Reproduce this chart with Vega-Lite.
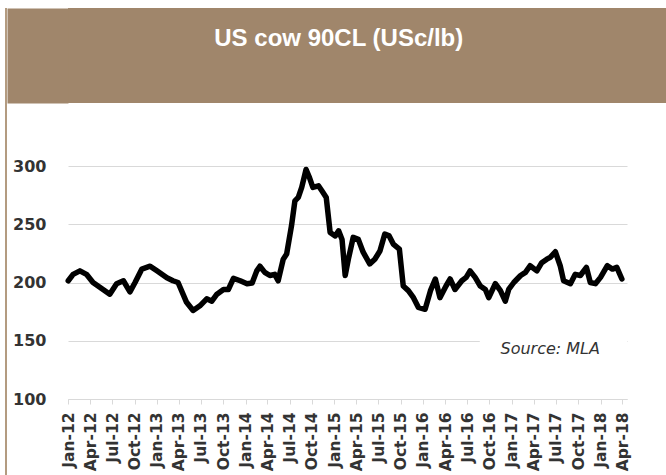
{
  "$schema": "https://vega.github.io/schema/vega-lite/v6.json",
  "background": "white",
  "padding": {"left": 5, "top": 8, "right": 0, "bottom": 0},
  "config": {
    "view": {"stroke": null},
    "font": "DejaVu Sans",
    "axisX": {
      "domainColor": "#d9d9d9", "tickColor": "#d9d9d9", "tickSize": 5, "grid": false,
      "labelAngle": -90, "labelFont": "DejaVu Sans", "labelFontSize": 15.5, "labelFontWeight": "bold", "labelColor": "#333333",
      "labelPadding": 8, "labelOverlap": false, "labelFlush": false
    },
    "axisY": {
      "domain": false, "ticks": false, "gridColor": "#d9d9d9", "gridWidth": 1,
      "labelFont": "DejaVu Sans", "labelFontSize": 16, "labelFontWeight": "bold", "labelColor": "#333333",
      "labelPadding": 22
    }
  },
  "spacing": 0,
  "hconcat": [
    {
      "width": 2, "height": 467,
      "view": {"fill": "#b39b80", "stroke": null},
      "data": {"values": [{}]},
      "mark": {"type": "text"},
      "encoding": {"text": {"value": ""}}
    },
    {
      "spacing": 55,
      "vconcat": [
        {
          "width": 598, "height": 95,
          "view": {"fill": "#a0866b", "stroke": null},
          "title": {"text": "US cow 90CL (USc/lb)", "color": "white", "font": "Liberation Sans", "fontSize": 24, "fontWeight": "bold", "anchor": "middle", "frame": "bounds", "offset": -62, "dx": -13, "baseline": "alphabetic"},
          "data": {"values": [{}]},
          "mark": {"type": "text"},
          "encoding": {
            "text": {"value": ""},
            "y": {"datum": 0.5, "type": "quantitative", "scale": {"domain": [0, 1]},
                  "axis": {"title": null, "labels": false, "ticks": false, "grid": false, "domain": true, "domainWidth": 61, "domainColor": "#a0866b", "domainCap": "butt", "offset": 30.5, "minExtent": 0, "maxExtent": 200}}
          }
        },
        {
          "width": 559, "height": 233,
          "data": {"values": [
            {"d": "2012-01-02", "v": 201.5}, {"d": "2012-01-22", "v": 207}, {"d": "2012-02-19", "v": 210},
            {"d": "2012-03-17", "v": 207}, {"d": "2012-04-13", "v": 200}, {"d": "2012-05-11", "v": 196},
            {"d": "2012-06-21", "v": 190}, {"d": "2012-07-19", "v": 199}, {"d": "2012-08-16", "v": 201.5},
            {"d": "2012-09-12", "v": 192}, {"d": "2012-10-03", "v": 200}, {"d": "2012-10-31", "v": 211.5},
            {"d": "2012-12-04", "v": 214}, {"d": "2013-01-01", "v": 210}, {"d": "2013-02-11", "v": 204},
            {"d": "2013-03-08", "v": 201.5}, {"d": "2013-03-29", "v": 200}, {"d": "2013-05-03", "v": 183},
            {"d": "2013-05-30", "v": 176}, {"d": "2013-06-27", "v": 180}, {"d": "2013-07-25", "v": 186},
            {"d": "2013-08-15", "v": 184}, {"d": "2013-09-05", "v": 190}, {"d": "2013-10-02", "v": 194},
            {"d": "2013-10-22", "v": 194}, {"d": "2013-11-12", "v": 203.5}, {"d": "2013-12-10", "v": 201.5},
            {"d": "2014-01-07", "v": 199}, {"d": "2014-01-28", "v": 199.5}, {"d": "2014-02-16", "v": 210},
            {"d": "2014-03-01", "v": 214}, {"d": "2014-03-21", "v": 208.7}, {"d": "2014-04-11", "v": 206},
            {"d": "2014-05-01", "v": 207}, {"d": "2014-05-15", "v": 201.5}, {"d": "2014-06-05", "v": 220},
            {"d": "2014-06-19", "v": 224.4}, {"d": "2014-07-09", "v": 248.7}, {"d": "2014-07-23", "v": 270},
            {"d": "2014-08-06", "v": 273}, {"d": "2014-08-20", "v": 281.6}, {"d": "2014-09-07", "v": 297},
            {"d": "2014-09-21", "v": 290}, {"d": "2014-10-05", "v": 281.6}, {"d": "2014-10-28", "v": 283},
            {"d": "2014-11-11", "v": 278.7}, {"d": "2014-11-29", "v": 273}, {"d": "2014-12-15", "v": 243},
            {"d": "2015-01-05", "v": 240}, {"d": "2015-01-19", "v": 244.4}, {"d": "2015-02-02", "v": 237},
            {"d": "2015-02-15", "v": 206}, {"d": "2015-02-28", "v": 220}, {"d": "2015-03-20", "v": 238.7},
            {"d": "2015-04-10", "v": 237}, {"d": "2015-04-30", "v": 226}, {"d": "2015-05-27", "v": 216},
            {"d": "2015-06-17", "v": 220}, {"d": "2015-07-08", "v": 227}, {"d": "2015-07-28", "v": 241.6},
            {"d": "2015-08-15", "v": 240}, {"d": "2015-09-01", "v": 233}, {"d": "2015-09-26", "v": 228.7},
            {"d": "2015-10-12", "v": 197}, {"d": "2015-11-02", "v": 193}, {"d": "2015-11-23", "v": 187},
            {"d": "2015-12-13", "v": 178.7}, {"d": "2016-01-10", "v": 177}, {"d": "2016-02-01", "v": 193},
            {"d": "2016-02-21", "v": 203}, {"d": "2016-03-11", "v": 187}, {"d": "2016-04-05", "v": 197},
            {"d": "2016-04-22", "v": 203}, {"d": "2016-05-12", "v": 194}, {"d": "2016-06-09", "v": 201.5},
            {"d": "2016-06-27", "v": 204.4}, {"d": "2016-07-13", "v": 210}, {"d": "2016-08-03", "v": 204.4},
            {"d": "2016-08-24", "v": 197}, {"d": "2016-09-14", "v": 194}, {"d": "2016-09-28", "v": 187},
            {"d": "2016-10-25", "v": 199}, {"d": "2016-11-15", "v": 193}, {"d": "2016-12-05", "v": 184},
            {"d": "2016-12-19", "v": 194}, {"d": "2017-01-09", "v": 200}, {"d": "2017-02-06", "v": 206},
            {"d": "2017-02-26", "v": 208.7}, {"d": "2017-03-17", "v": 214.4}, {"d": "2017-04-14", "v": 210},
            {"d": "2017-05-04", "v": 217}, {"d": "2017-05-25", "v": 220}, {"d": "2017-06-08", "v": 221.6},
            {"d": "2017-06-29", "v": 226.4}, {"d": "2017-07-19", "v": 214.4}, {"d": "2017-08-02", "v": 201.5},
            {"d": "2017-08-30", "v": 199}, {"d": "2017-09-19", "v": 207}, {"d": "2017-10-10", "v": 206},
            {"d": "2017-11-04", "v": 213}, {"d": "2017-11-20", "v": 200}, {"d": "2017-12-11", "v": 199},
            {"d": "2018-01-01", "v": 204.4}, {"d": "2018-01-29", "v": 214.4}, {"d": "2018-02-19", "v": 211.5},
            {"d": "2018-03-09", "v": 213}, {"d": "2018-03-30", "v": 203}
          ]},
          "layer": [
            {
              "mark": {"type": "line", "color": "black", "strokeWidth": 5.5, "strokeJoin": "round", "strokeCap": "round"},
              "encoding": {
                "x": {
                  "field": "d", "type": "temporal", "title": null,
                  "scale": {"type": "utc", "nice": false, "domain": [{"year": 2012, "month": 1, "date": 1, "utc": true}, {"year": 2018, "month": 4, "date": 20, "utc": true}]},
                  "axis": {"format": "%b-%y", "tickCount": {"interval": "month", "step": 3}}
                },
                "y": {
                  "field": "v", "type": "quantitative", "title": null,
                  "scale": {"domain": [100, 300], "nice": false, "zero": false},
                  "axis": {"values": [100, 150, 200, 250, 300], "minExtent": 61}
                }
              }
            },
            {
              "data": {"values": [{}]},
              "mark": {"type": "rect", "color": "white"},
              "encoding": {
                "x": {"datum": {"year": 2016, "month": 8, "date": 22, "utc": true}, "type": "temporal", "title": null},
                "x2": {"datum": {"year": 2018, "month": 4, "date": 20, "utc": true}},
                "y": {"datum": 146, "type": "quantitative", "title": null},
                "y2": {"datum": 154}
              }
            },
            {
              "data": {"values": [{}]},
              "mark": {"type": "text", "text": "Source: MLA", "font": "DejaVu Sans", "fontStyle": "italic", "fontSize": 16, "color": "#333333", "align": "center", "baseline": "middle"},
              "encoding": {
                "x": {"datum": {"year": 2017, "month": 6, "date": 8, "utc": true}, "type": "temporal", "title": null},
                "y": {"datum": 143, "type": "quantitative", "title": null}
              }
            }
          ]
        }
      ]
    }
  ]
}
